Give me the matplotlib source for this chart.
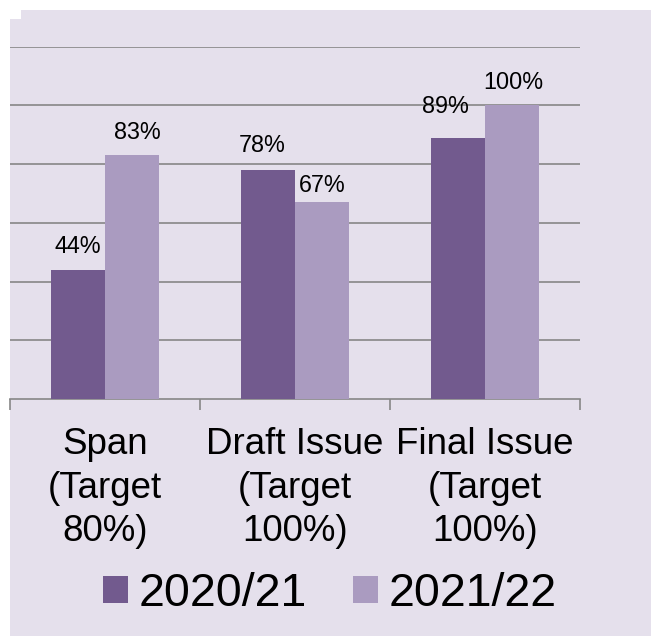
"""Grouped bar chart of review completion against target, two years."""

import matplotlib

matplotlib.use("Agg")
import matplotlib.pyplot as plt
import numpy as np
from matplotlib.patches import Patch, Polygon

categories = ["Span\n(Target\n80%)", "Draft Issue\n(Target\n100%)", "Final Issue\n(Target\n100%)"]
series_names = ["2020/21", "2021/22"]
values_2020 = [44, 78, 89]
values_2021 = [83, 67, 100]

DARK = "#725A8E"
LIGHT = "#AA9BC0"
BG = "#E5E0EC"
GRID = "#878787"
FONT = "Liberation Sans"

# label nudges in pixels (dx, dy) so neighbouring value labels don't collide
NUDGE_2020 = [(0, 0), (-6, 1), (-13, 8)]
NUDGE_2021 = [(5, 0), (0, -6), (1, 0)]

W, H = 651, 636
fig = plt.figure(figsize=(W / 100, H / 100), dpi=100, facecolor="white")

# lavender panel behind everything, with the small notch at the top-left corner
corner = [(10, 19), (21, 19), (21, 10), (W, 10), (W, H), (10, H)]
fig.patches.append(
    Polygon(
        [(x / W, 1 - y / H) for x, y in corner],
        closed=True,
        facecolor=BG,
        edgecolor="none",
        transform=fig.transFigure,
        zorder=-1,
    )
)

ax = fig.add_axes([10 / W, 1 - 399 / H, 570 / W, (399 - 46.5) / H])
ax.patch.set_visible(False)

x = np.arange(len(categories))
bw = 0.284
bars_a = ax.bar(x - bw / 2, values_2020, width=bw, color=DARK, zorder=3)
bars_b = ax.bar(x + bw / 2, values_2021, width=bw, color=LIGHT, zorder=3)

ax.set_xlim(-0.5, 2.5)
ax.set_ylim(0, 120)
ax.set_yticks(np.arange(20, 121, 20))
ax.yaxis.grid(True, color=GRID, linewidth=1.2)
ax.set_axisbelow(True)
ax.tick_params(axis="y", left=False, labelleft=False)

for side in ("top", "right", "left"):
    ax.spines[side].set_visible(False)
ax.spines["bottom"].set_color(GRID)
ax.spines["bottom"].set_linewidth(1.2)

# category boundaries get the tick marks, centres get the labels
ax.set_xticks(x)
ax.set_xticklabels(categories, fontfamily=FONT, fontsize=26.5, linespacing=1.31)
ax.set_xticks(np.arange(-0.5, 2.6, 1.0), minor=True)
ax.tick_params(axis="x", which="major", length=0, pad=20.5)
ax.tick_params(axis="x", which="minor", length=8, width=1.2, color=GRID)

px = 72 / 100  # pixels -> points
for bars, vals, nudges in ((bars_a, values_2020, NUDGE_2020), (bars_b, values_2021, NUDGE_2021)):
    for bar, v, (dx, dy) in zip(bars, vals, nudges):
        ax.annotate(
            f"{v}%",
            (bar.get_x() + bar.get_width() / 2, v),
            xytext=(dx * px, 12 + dy * px),
            textcoords="offset points",
            ha="center",
            va="baseline",
            fontfamily=FONT,
            fontsize=16.8,
            zorder=4,
        )

handles = [Patch(facecolor=DARK), Patch(facecolor=LIGHT)]
fig.legend(
    handles,
    series_names,
    loc="center",
    bbox_to_anchor=(330 / W, 1 - 594 / H),
    ncol=2,
    frameon=False,
    prop={"family": FONT, "size": 33.5},
    handlelength=0.54,
    handleheight=0.54,
    handletextpad=0.22,
    columnspacing=1.0,
    borderpad=0,
)

fig.savefig("out.png", dpi=100, facecolor="white")
